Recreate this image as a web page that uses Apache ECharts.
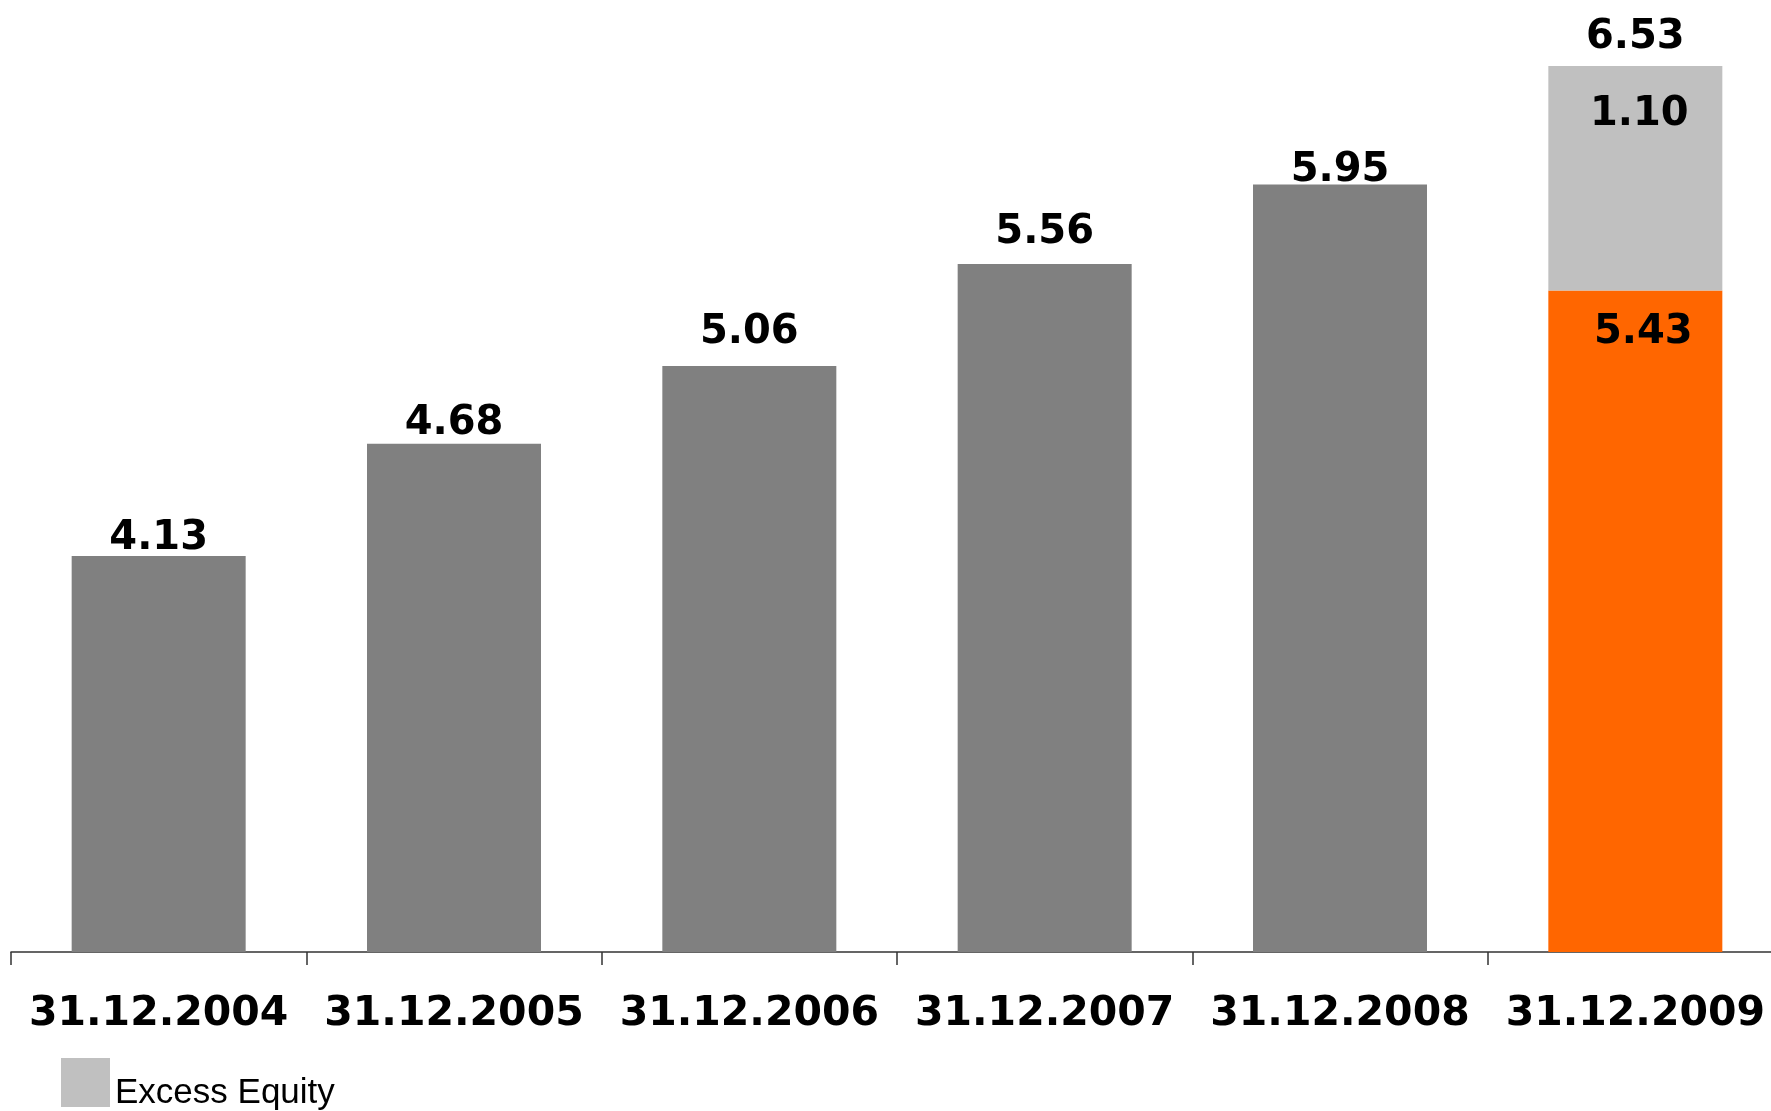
<!DOCTYPE html>
<html>
<head>
<meta charset="utf-8">
<script src="https://cdn.jsdelivr.net/npm/echarts@6/dist/echarts.min.js"></script>
<style>
html,body{margin:0;padding:0;background:#fff;}
#chart{width:1771px;height:1111px;}
</style>
</head>
<body>
<div id="chart"></div>
<script>
var categories = ['31.12.2004', '31.12.2005', '31.12.2006', '31.12.2007', '31.12.2008', '31.12.2009'];
var equity = [4.13, 4.68, 5.06, 5.56, 5.95, 5.43];
var excessEquity = [null, null, null, null, null, 1.10];
var totals = [null, null, null, null, null, 6.53];
var legendLabel = 'Excess Equity';

// label placement (style only)
var labelDistance = [-2.5, 0, 13, 11, -6.5];

var labelFont = {fontFamily: 'DejaVu Sans', fontWeight: 'bold', fontSize: 40, color: '#000'};

var baseData = equity.map(function (v, i) {
  if (i === equity.length - 1) {
    return {
      value: v,
      itemStyle: {color: '#FF6600'},
      label: Object.assign({show: true, position: 'insideTop', distance: 22, offset: [8, 0]}, labelFont)
    };
  }
  return {value: v, label: {distance: labelDistance[i]}};
});

var chart = echarts.init(document.getElementById('chart'), null, {renderer: 'canvas'});
chart.setOption({
  animation: false,
  backgroundColor: '#fff',
  grid: {left: 11, top: 66, width: 1772, bottom: 159, containLabel: false, outerBoundsMode: 'none'},
  legend: {
    data: [legendLabel],
    left: 56, top: 1053,
    itemWidth: 49, itemHeight: 49,
    icon: 'rect',
    formatter: function (name) { return '{t|' + name + '}'; },
    textStyle: {
      fontFamily: 'Liberation Sans', fontSize: 35, color: '#000',
      rich: {t: {fontFamily: 'Liberation Sans', fontSize: 35, color: '#000', padding: [22, 0, 0, 0]}}
    }
  },
  xAxis: {
    type: 'category',
    data: categories,
    axisLine: {lineStyle: {color: '#333', width: 1.5}},
    axisTick: {show: true, length: 13, lineStyle: {color: '#333', width: 1.5}, alignWithLabel: false},
    axisLabel: Object.assign({margin: 42, interval: 0}, labelFont, {fontSize: 41})
  },
  yAxis: {
    type: 'value', min: 2.19, max: 6.53, show: false, splitLine: {show: false}
  },
  series: [
    {
      name: 'Equity', type: 'bar', stack: 'total', barWidth: 174,
      itemStyle: {color: '#808080'},
      label: Object.assign({show: true, position: 'top', distance: 2}, labelFont),
      data: baseData
    },
    {
      name: legendLabel, type: 'bar', stack: 'total', barWidth: 174,
      itemStyle: {color: '#C0C0C0'},
      label: Object.assign({show: true, position: 'insideTop', distance: 29, offset: [4, 0],
        formatter: function (p) { return p.value.toFixed(2); }}, labelFont),
      data: excessEquity
    },
    {
      name: 'Total', type: 'scatter', symbolSize: 0, silent: true,
      itemStyle: {color: '#000', opacity: 1},
      label: Object.assign({show: true, position: 'top', distance: 8,
        formatter: function (p) { return p.value.toFixed(2); }}, labelFont),
      data: totals
    }
  ]
});
</script>
</body>
</html>
